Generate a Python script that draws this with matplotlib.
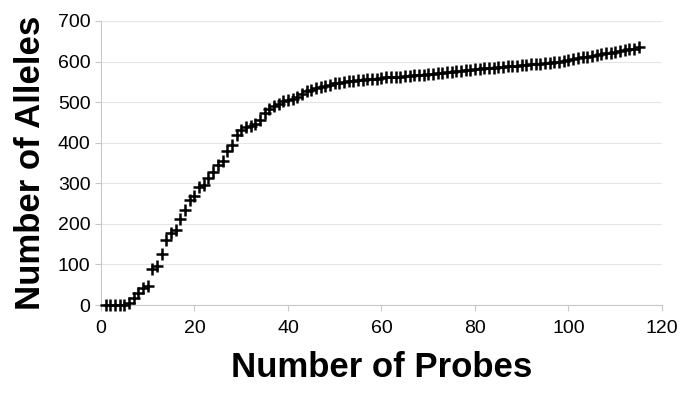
import numpy as np
import matplotlib
matplotlib.use('Agg')
import matplotlib.pyplot as plt

# cumulative alleles vs number of probes
probes = list(range(1, 116))
alleles = [0, 0, 0, 0, 0, 5, 18, 30, 42, 47,
           88, 97, 125, 160, 178, 185, 212, 235, 258, 268,
           290, 296, 312, 328, 345, 356, 380, 395, 418, 432,
           438, 440, 445, 455, 472, 482, 490, 496, 502, 505,
           508, 512, 520, 527, 531, 534, 537, 540, 543, 546,
           548, 550, 551, 553, 554, 555, 556, 557, 558, 560,
           561, 562, 562, 563, 564, 565, 566, 567, 568, 569,
           570, 571, 572, 574, 575, 576, 577, 578, 579, 581,
           582, 583, 584, 585, 586, 587, 588, 589, 590, 591,
           592, 593, 594, 595, 596, 597, 598, 600, 602, 604,
           606, 608, 610, 612, 614, 616, 618, 620, 622, 624,
           626, 628, 630, 632, 635]

plt.rcParams['font.family'] = ['Liberation Sans', 'DejaVu Sans']
fig = plt.figure(figsize=(6.85, 4.03), dpi=100)
ax = fig.add_axes([0.1474, 0.243, 0.819, 0.705])
ax.plot(probes, alleles, linestyle='none', marker='+', color='black',
        markersize=9, markeredgewidth=1.8, clip_on=False, zorder=5)
ax.set_xlim(0, 120)
ax.set_ylim(0, 700)
ax.set_xticks(range(0, 121, 20))
ax.set_yticks(range(0, 701, 100))
ax.yaxis.grid(True, color='#e6e6e6', linewidth=0.8)
ax.set_axisbelow(True)
for s in ['top', 'right']:
    ax.spines[s].set_visible(False)
for s in ['left', 'bottom']:
    ax.spines[s].set_color('#c8c8c8')
ax.tick_params(axis='both', colors='#c8c8c8', labelcolor='black',
               labelsize=14, length=4, direction='out')
ax.tick_params(axis='x', pad=7)
ax.set_xlabel('Number of Probes', fontsize=25, fontweight='bold', labelpad=10)
ax.set_ylabel('Number of Alleles', fontsize=25, fontweight='bold', labelpad=8)
plt.savefig('out.png', dpi=100)
